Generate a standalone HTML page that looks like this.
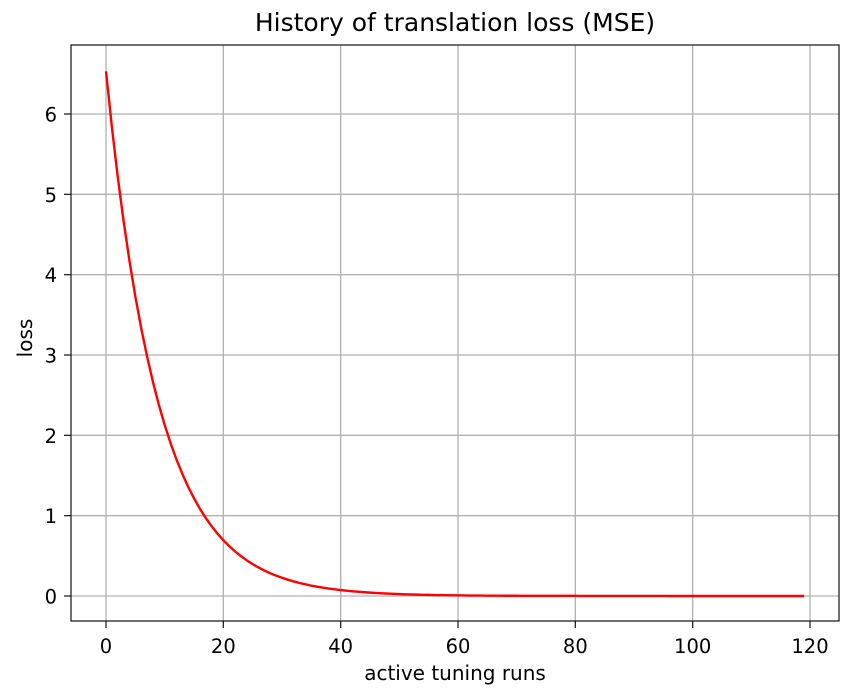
<!DOCTYPE html>
<html><head><meta charset="utf-8"><style>
html,body{margin:0;padding:0;background:#fff;}
svg{display:block;font-family:"DejaVu Sans","Liberation Sans",sans-serif;}
</style></head><body>
<svg id="chart" width="854" height="700" viewBox="0 0 854 700" xmlns="http://www.w3.org/2000/svg">
<rect x="0" y="0" width="854" height="700" fill="#fff"/>
<text x="455" y="31" text-anchor="middle" font-size="25" fill="#000">History of translation loss (MSE)</text>
<g id="grid"></g>
<g id="series"></g>
<rect x="71" y="45" width="768" height="576" fill="none" stroke="#222" stroke-width="1.3"/>
<g id="xticks"></g>
<g id="yticks"></g>
<text x="455" y="680" text-anchor="middle" font-size="20">active tuning runs</text>
<text x="32" y="338" text-anchor="middle" font-size="20" transform="rotate(-90 32 338)">loss</text>
</svg>
<script>
const xTickValues = [0, 20, 40, 60, 80, 100, 120];
const yTickValues = [0, 1, 2, 3, 4, 5, 6];
const lossValues = [6.530,5.838,5.219,4.666,4.171,3.729,3.334,2.981,2.665,2.382,2.130,1.904,1.702,1.522,1.360,1.216,1.087,0.972,0.869,0.777,0.695,0.621,0.555,0.496,0.444,0.397,0.355,0.317,0.283,0.253,0.227,0.203,0.181,0.162,0.145,0.129,0.116,0.103,0.092,0.083,0.074,0.066,0.059,0.053,0.047,0.042,0.038,0.034,0.030,0.027,0.024,0.021,0.019,0.017,0.015,0.014,0.012,0.011,0.010,0.009,0.008,0.007,0.006,0.006,0.005,0.004,0.004,0.004,0.003,0.003,0.003,0.002,0.002,0.002,0.002,0.002,0.002,0.002,0.002,0.002,0.002,0.001,0.001,0.001,0.001,0.001,0.001,0.001,0.001,0.001,0.001,0.001,0.001,0.001,0.001,0.001,0,0,0,0,0,0,0,0,0,0,0,0,0,0,0,0,0,0,0,0,0,0,0,0];

const NS = "http://www.w3.org/2000/svg";
const xScale = v => 106 + (v - 0) * (810 - 106) / 120;
const yScale = v => 596 - v * (596 - 114) / 6;

const grid = document.getElementById('grid');
const xt = document.getElementById('xticks');
const yt = document.getElementById('yticks');

xTickValues.forEach(v => {
  const x = xScale(v);
  const g = document.createElementNS(NS, 'line');
  g.setAttribute('x1', x); g.setAttribute('x2', x); g.setAttribute('y1', 45); g.setAttribute('y2', 621);
  g.setAttribute('stroke', '#b0b0b0'); g.setAttribute('stroke-width', '1.3');
  
  
  grid.appendChild(g);
  const t = document.createElementNS(NS, 'line');
  t.setAttribute('x1', x); t.setAttribute('x2', x); t.setAttribute('y1', 621); t.setAttribute('y2', 628);
  t.setAttribute('stroke', '#222'); t.setAttribute('stroke-width', '1.3');
  
  
  xt.appendChild(t);
  const l = document.createElementNS(NS, 'text');
  l.setAttribute('x', x); l.setAttribute('y', 653); l.setAttribute('text-anchor', 'middle'); l.setAttribute('font-size', '19.5');
  l.textContent = v;
  
  
  xt.appendChild(l);
});

yTickValues.forEach(v => {
  const y = yScale(v);
  const g = document.createElementNS(NS, 'line');
  g.setAttribute('x1', 71); g.setAttribute('x2', 839); g.setAttribute('y1', y); g.setAttribute('y2', y);
  g.setAttribute('stroke', '#b0b0b0'); g.setAttribute('stroke-width', '1.3');
  
  
  grid.appendChild(g);
  const t = document.createElementNS(NS, 'line');
  t.setAttribute('x1', 64); t.setAttribute('x2', 71); t.setAttribute('y1', y); t.setAttribute('y2', y);
  t.setAttribute('stroke', '#222'); t.setAttribute('stroke-width', '1.3');
  
  
  yt.appendChild(t);
  const l = document.createElementNS(NS, 'text');
  l.setAttribute('x', 57); l.setAttribute('y', y + 7.5); l.setAttribute('text-anchor', 'end'); l.setAttribute('font-size', '19.5');
  l.textContent = v;
  
  
  yt.appendChild(l);
});

const pts = lossValues.map((v, i) => xScale(i).toFixed(2) + ',' + yScale(v).toFixed(2)).join(' ');
const line = document.createElementNS(NS, 'polyline');
line.setAttribute('points', pts);
line.setAttribute('fill', 'none'); line.setAttribute('stroke', '#ff0000'); line.setAttribute('stroke-width', '2.4');
line.setAttribute('stroke-linejoin', 'round');


document.getElementById('series').appendChild(line);
</script>
</body></html>
